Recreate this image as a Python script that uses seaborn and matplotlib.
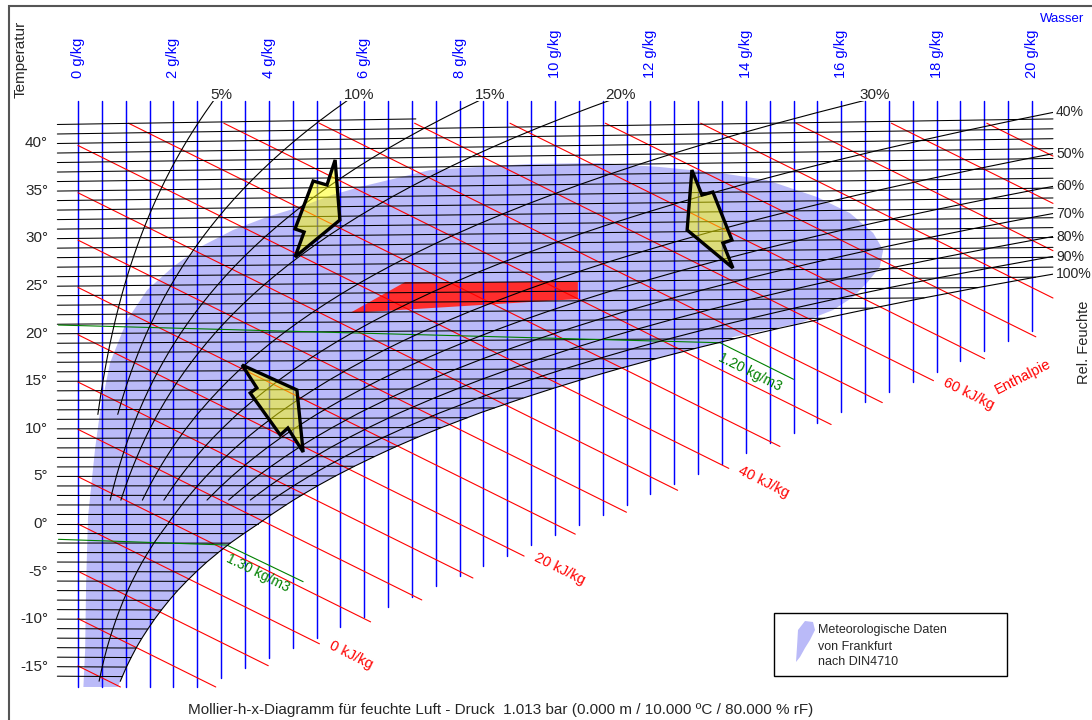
import numpy as np
import pandas as pd
import matplotlib
matplotlib.use("Agg")
import matplotlib.pyplot as plt
import matplotlib.transforms as mtransforms
from matplotlib.patches import Polygon, Rectangle
import seaborn as sns

# ---------------------------------------------------------------- data
# Saturation vapour pressure of water (hPa), over ice below 0 °C
sat_temp_c = [-17, -16.5, -16, -15, -14, -13, -12, -11, -10, -9, -8, -7, -6, -5, -4, -3, -2, -1,
              0, 1, 2, 2.5, 3, 4, 5, 6, 7, 8, 9, 10, 11, 11.5, 12, 13, 14, 15, 16, 17, 18, 19, 20,
              21, 22, 23, 24, 25, 26, 27, 28, 29, 30, 31, 32, 33, 34, 35, 36, 37, 38, 39, 40,
              41, 42, 43, 44, 45]
sat_pressure_hpa = [1.37, 1.44, 1.51, 1.65, 1.81, 1.98, 2.17, 2.38, 2.60, 2.84, 3.10, 3.38, 3.69,
                    4.02, 4.37, 4.76, 5.17, 5.63,
                    6.11, 6.57, 7.06, 7.31, 7.58, 8.13, 8.72, 9.35, 10.02, 10.72, 11.47, 12.27,
                    13.12, 13.55, 14.02, 14.97, 15.98, 17.04, 18.17, 19.37, 20.63, 21.96, 23.37,
                    24.86, 26.43, 28.09, 29.83, 31.67, 33.61, 35.65, 37.80, 40.06, 42.43, 44.93,
                    47.55, 50.30, 53.20, 56.23, 59.42, 62.76, 66.26, 69.93, 73.77,
                    77.80, 82.02, 86.42, 91.03, 95.85]
pressure_hpa = 1013.0

rh_levels = [5, 10, 15, 20, 30, 40, 50, 60, 70, 80, 90, 100]
rh_start_c = [11.5, 11.5, 2.5, 2.5, 2.5, 2.5, -16.5, 2.5, 2.5, 2.5, 2.5, -16.5]

isotherm_c = list(range(-16, 43))
temp_label_c = [40, 35, 30, 25, 20, 15, 10, 5, 0, -5, -10, -15]
enthalpy_kj = list(range(-15, 95, 5))
enthalpy_label_kj = [0, 20, 40, 60]
moisture_gkg = [i * 0.5 for i in range(41)]
moisture_label_gkg = [0, 2, 4, 6, 8, 10, 12, 14, 16, 18, 20]

# air density isolines: (x g/kg, chart temperature)
density_120_x = [-0.41, 13.46, 15.00]
density_120_y = [20.90, 19.04, 15.20]
density_130_x = [-0.41, 3.12, 4.72]
density_130_y = [-1.61, -2.21, -6.06]

# envelope of the Frankfurt weather data (DIN 4710)
frankfurt_x = [0.10, 0.15, 0.17, 0.21, 0.36, 0.46, 0.67, 1.03, 1.45, 1.99, 2.56, 3.25, 3.96,
               4.65, 5.33, 5.91, 7.38, 8.01, 9.48, 10.94, 12.20, 13.46, 14.44, 15.49, 16.18,
               16.67, 16.88, 16.81, 16.54, 16.25, 15.83, 15.14, 14.44, 13.73, 13.52, 13.04,
               4.65, 0.10]
frankfurt_y = [-18.5, -13.24, -6.20, 0.74, 7.98, 11.66, 16.91, 21.43, 24.58, 27.00, 29.10,
               30.88, 32.25, 33.30, 34.56, 35.40, 37.18, 37.39, 37.82, 37.92, 37.50, 36.87,
               36.13, 34.35, 32.67, 30.57, 28.78, 27.00, 25.32, 23.84, 22.48, 21.11, 20.38,
               19.64, 19.12, 10.92, -18.5, -18.5]

# comfort zone
comfort_x = [5.70, 6.86, 10.48, 10.48]
comfort_y = [22.16, 25.42, 25.42, 23.63]

# three state-change arrows
arrow_up_x = [5.39, 5.49, 4.55, 4.74, 4.55, 4.93, 5.22]
arrow_up_y = [38.24, 31.93, 28.05, 30.67, 30.99, 36.03, 35.61]
arrow_right_x = [12.87, 13.08, 13.31, 13.71, 13.52, 13.73, 12.77]
arrow_right_y = [37.18, 34.56, 34.87, 29.83, 29.52, 26.89, 30.88]
arrow_down_x = [3.44, 4.59, 4.72, 4.40, 4.24, 3.61, 3.75]
arrow_down_y = [16.70, 14.08, 7.56, 10.08, 9.35, 13.76, 14.29]

# ---------------------------------------------------------------- psychrometrics
CP_AIR, CP_VAP, R0 = 1.006, 1.86, 2501.0
sat_lookup = dict(zip(sat_temp_c, sat_pressure_hpa))


def x_from_pv(pv):
    return 622.0 * pv / (pressure_hpa - pv)


def chart_y(t, x):
    return t * (1.0 + CP_VAP * x / (1000.0 * CP_AIR))


def enthalpy_y(h, x):
    return (h - R0 * x / 1000.0) / CP_AIR


# chart frame (x in g/kg, y in chart °C)
X_STUB, X_MAX = -0.433, 20.44
Y_TOP, Y_TOP_H, Y_TOP_T, Y_BOT = 44.43, 42.1, 42.55, -17.12
BLUE_CUT = (-22.67, 2.149)
RED_CUT = (-23.45, 2.147)

# ---------------------------------------------------------------- figure
sns.set_theme(style="white")
plt.rcParams["font.family"] = ["Liberation Sans", "DejaVu Sans"]
W, H = 1092, 720
fig = plt.figure(figsize=(W / 100, H / 100), dpi=100)
ax = fig.add_axes([0, 0, 1, 1])
X0_PX, X_SCALE, Y0_PX, Y_SCALE = 78.0, 47.7, 524.0, 9.52


def at(xp, yp):
    return (xp - X0_PX) / X_SCALE, (Y0_PX - yp) / Y_SCALE


def family(segments, color, lw, z):
    rows = []
    for i, (xs, ys) in enumerate(segments):
        for xv, yv in zip(xs, ys):
            rows.append((i, xv, yv))
    df = pd.DataFrame(rows, columns=["id", "x", "y"])
    n0 = len(ax.lines)
    sns.lineplot(data=df, x="x", y="y", units="id", estimator=None, sort=False,
                 color=color, lw=lw, ax=ax, legend=False, zorder=z)
    return ax.lines[n0:]


# saturation region used to clip the weather envelope
sat_pts = [(x_from_pv(sat_lookup[t]), chart_y(t, x_from_pv(sat_lookup[t])))
           for t in sat_temp_c if t <= 27]
clip_verts = [(-3, Y_BOT), (sat_pts[0][0], Y_BOT)] + sat_pts + [(25, 60), (-3, 60)]
sat_clip = Polygon(clip_verts, closed=True, transform=ax.transData)

blob = Polygon(list(zip(frankfurt_x, frankfurt_y)), closed=True, fc="#babaf8", ec="none",
               zorder=1)
ax.add_patch(blob)
blob.set_clip_path(sat_clip)

ax.add_patch(Polygon(list(zip(comfort_x, comfort_y)), closed=True, fc="#ff2d2d", ec="none",
                     zorder=2))

# moisture content lines
segs = []
for g in moisture_gkg:
    y_low = max(Y_BOT, BLUE_CUT[0] + BLUE_CUT[1] * g)
    segs.append(([g, g], [Y_TOP, y_low]))
family(segs, "#0000ff", 1.05, 3)

# enthalpy lines
segs = []
h_ends = {}
for h in enthalpy_kj:
    x0 = 0.0
    if enthalpy_y(h, 0) > Y_TOP_H:
        x0 = (h - CP_AIR * Y_TOP_H) * 1000.0 / R0
    x_rb = (h - CP_AIR * RED_CUT[0]) / (R0 / 1000.0 + CP_AIR * RED_CUT[1])
    x_bot = (h - CP_AIR * Y_BOT) * 1000.0 / R0
    x1 = min(X_MAX, x_rb, x_bot)
    if x1 <= x0:
        continue
    h_ends[h] = (x1, enthalpy_y(h, x1))
    segs.append(([x0, x1], [enthalpy_y(h, x0), enthalpy_y(h, x1)]))
family(segs, "#ff0000", 0.8, 3)

# isotherms
segs = []
for t in isotherm_c:
    xr = min(x_from_pv(sat_lookup[t]), X_MAX)
    if chart_y(t, xr) > Y_TOP_T:
        xr = (Y_TOP_T / t - 1.0) * 1000.0 * CP_AIR / CP_VAP
    segs.append(([X_STUB, xr], [chart_y(t, X_STUB), chart_y(t, xr)]))
family(segs, "#000000", 0.75, 4)

# density lines
family([(density_120_x, density_120_y), (density_130_x, density_130_y)], "#008000", 0.8, 4)

# relative humidity curves
segs = []
curve_pts = {}
for phi, t0 in zip(rh_levels, rh_start_c):
    ts = [t for t in sat_temp_c if t >= t0]
    xs = [x_from_pv(phi / 100.0 * sat_lookup[t]) for t in ts]
    ys = [chart_y(t, x) for t, x in zip(ts, xs)]
    curve_pts[phi] = (np.array(xs), np.array(ys))
    segs.append((xs, ys))
rh_lines = family(segs, "#000000", 0.8, 5)
rh_clip = Rectangle((X_STUB - 1, Y_BOT - 1), X_MAX - X_STUB + 1, Y_TOP - Y_BOT + 1,
                    transform=ax.transData)
for ln in rh_lines:
    ln.set_clip_path(rh_clip)

# arrows
for ax_x, ax_y in [(arrow_up_x, arrow_up_y), (arrow_right_x, arrow_right_y),
                   (arrow_down_x, arrow_down_y)]:
    ax.add_patch(Polygon(list(zip(ax_x, ax_y)), closed=True, fc=(1, 1, 0, 0.5), ec="black",
                         lw=2.4, joinstyle="miter", zorder=6))

# ---------------------------------------------------------------- labels
FS = 10.5
blue, red, green = "#0000ff", "#ff0000", "#008000"

for g in moisture_label_gkg:
    ax.text(g, at(0, 78)[1], f"{g} g/kg", rotation=90, ha="center", va="bottom",
            color=blue, fontsize=FS)

for t in temp_label_c:
    ax.text(at(48, 0)[0], t, f"{t}°", ha="right", va="center", fontsize=FS + 0.5)

px_off = lambda dx, dy: mtransforms.offset_copy(ax.transData, fig=fig, x=dx, y=dy, units="dots")
for phi in rh_levels:
    xs, ys = curve_pts[phi]
    if phi <= 30:
        xe = np.interp(Y_TOP, ys, xs)
        ax.text(xe, Y_TOP, f"{phi}%", ha="left", va="baseline", fontsize=FS + 0.5,
                transform=px_off(-3, 2))
    else:
        ye = np.interp(X_MAX, xs, ys)
        ax.text(at(1056, 0)[0], ye, f"{phi}%", ha="left", va="center", fontsize=10.1)

for h in enthalpy_label_kj:
    xe, ye = h_ends[h]
    ax.text(xe, ye, f"{h} kJ/kg", rotation=-26.4, rotation_mode="anchor", ha="left",
            va="baseline", color=red, fontsize=FS, transform=px_off(9, -4.5))
ax.text(*at(1023, 377), "Enthalpie", rotation=27, ha="center", va="center", color=red,
        fontsize=FS)

ax.text(*at(750, 372), "1.20 kg/m3", rotation=-26.5, ha="center", va="center", color=green,
        fontsize=FS - 0.5)
ax.text(*at(258, 573), "1.30 kg/m3", rotation=-26.5, ha="center", va="center", color=green,
        fontsize=FS - 0.5)

ax.text(*at(14, 59.5), "Temperatur", rotation=90, ha="left", va="center", fontsize=FS + 0.5)
ax.text(*at(1091, 342), "Rel. Feuchte", rotation=90, ha="right", va="center", fontsize=FS)
ax.text(*at(1062, 19), "Wasser", ha="center", va="center", color=blue, fontsize=FS - 1)
ax.text(*at(501, 710),
        "Mollier-h-x-Diagramm für feuchte Luft - Druck  1.013 bar (0.000 m / 10.000 ºC / 80.000 % rF)",
        ha="center", va="center", fontsize=11)

# legend
lx0, ly1 = at(774, 676)
ax.add_patch(Rectangle((lx0, ly1), 233 / X_SCALE, 63 / Y_SCALE, fc="white", ec="black",
                       lw=1.0, zorder=7))
icon = [at(805, 621), at(813, 622), at(815, 630), at(810, 640), at(805, 648), at(800, 657),
        at(796, 662), at(797, 647), at(798, 630)]
ax.add_patch(Polygon(icon, closed=True, fc="#babaf8", ec="none", zorder=8))
for line, yp in zip(["Meteorologische Daten", "von Frankfurt", "nach DIN4710"], [630, 647, 662]):
    ax.text(*at(818, yp), line, ha="left", va="center", fontsize=9, zorder=8)

# outer frame
fig.add_artist(Rectangle((9 / W, -0.05), 1.2, (H - 5.7) / H + 0.05, transform=fig.transFigure,
                         fill=False, ec="#555555", lw=1.5))

ax.set_xlim(-X0_PX / X_SCALE, (W - X0_PX) / X_SCALE)
ax.set_ylim((Y0_PX - H) / Y_SCALE, Y0_PX / Y_SCALE)
ax.axis("off")
fig.savefig("out.png", dpi=100)
